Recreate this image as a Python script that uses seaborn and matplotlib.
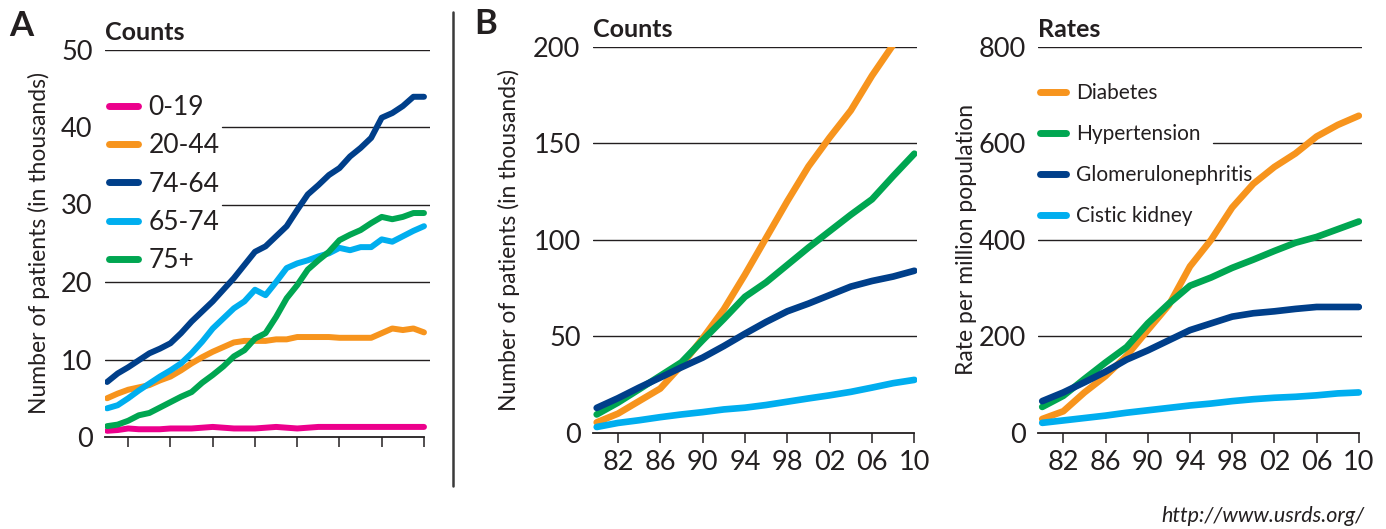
import numpy as np
import pandas as pd
import matplotlib
matplotlib.use("Agg")
import matplotlib.pyplot as plt
from matplotlib.lines import Line2D
import seaborn as sns

# ---------------- data ----------------
years_a = list(range(1980, 2011))
age_groups = ["0-19", "20-44", "74-64", "65-74", "75+"]
age_0_19 = [0.8, 0.9, 1.1, 1.0, 1.0, 1.0, 1.1, 1.1, 1.1, 1.2, 1.3, 1.2, 1.1, 1.1, 1.1, 1.2, 1.3, 1.2, 1.1, 1.2,
            1.3, 1.3, 1.3, 1.3, 1.3, 1.3, 1.3, 1.3, 1.3, 1.3, 1.3]
age_20_44 = [5.0, 5.6, 6.1, 6.4, 6.7, 7.3, 7.8, 8.6, 9.5, 10.3, 11.0, 11.6, 12.2, 12.4, 12.4, 12.4, 12.6, 12.6,
             12.9, 12.9, 12.9, 12.9, 12.8, 12.8, 12.8, 12.8, 13.4, 14.0, 13.8, 14.0, 13.5]
age_45_64 = [7.1, 8.2, 9.0, 9.9, 10.8, 11.4, 12.1, 13.4, 14.9, 16.2, 17.5, 19.0, 20.5, 22.2, 23.9, 24.6, 25.9,
             27.2, 29.3, 31.3, 32.5, 33.8, 34.7, 36.2, 37.3, 38.6, 41.2, 41.8, 42.7, 43.9, 43.9]
age_65_74 = [3.7, 4.1, 5.0, 6.0, 6.9, 7.8, 8.6, 9.5, 10.8, 12.3, 14.0, 15.3, 16.6, 17.5, 19.0, 18.3, 20.0, 21.8,
             22.4, 22.8, 23.3, 23.7, 24.4, 24.1, 24.5, 24.5, 25.5, 25.2, 25.9, 26.6, 27.2]
age_75p = [1.4, 1.6, 2.1, 2.8, 3.1, 3.8, 4.5, 5.2, 5.8, 7.0, 8.0, 9.1, 10.4, 11.2, 12.7, 13.4, 15.5, 17.9, 19.6,
           21.6, 22.8, 23.9, 25.4, 26.1, 26.7, 27.6, 28.4, 28.1, 28.4, 28.9, 28.9]

years_b = [1980, 1982, 1984, 1986, 1988, 1990, 1992, 1994, 1996, 1998, 2000, 2002, 2004, 2006, 2008, 2010]
causes = ["Diabetes", "Hypertension", "Glomerulonephritis", "Cistic kidney"]
# counts (thousands)
cnt_diabetes = [5.5, 10.0, 16.5, 23.0, 35.0, 49.0, 64.0, 82.0, 101.0, 120.0, 138.0, 153.0, 167.0, 185.0, 201.0]
cnt_hypert = [9.6, 15.7, 22.6, 29.6, 36.6, 48.0, 59.0, 70.5, 78.0, 87.0, 96.0, 104.5, 113.0, 121.0, 133.0, 144.6]
cnt_glomer = [13.0, 18.0, 23.5, 28.7, 34.0, 39.0, 45.0, 51.4, 57.5, 63.0, 67.0, 71.4, 75.8, 78.7, 81.0, 84.0]
cnt_cystic = [3.1, 5.2, 6.6, 8.2, 9.6, 10.8, 12.2, 13.1, 14.5, 16.2, 17.9, 19.5, 21.3, 23.5, 25.8, 27.5]
# rates (per million population)
rate_diabetes = [29, 45, 84, 118, 160, 213, 265, 345, 400, 467, 516, 551, 579, 614, 638, 657]
rate_hypert = [54, 77, 112, 146, 178, 227, 268, 305, 322, 342, 359, 377, 394, 406, 422, 438]
rate_glomer = [66, 84, 105, 127, 152, 171, 192, 213, 227, 241, 248, 252, 257, 261, 261, 261]
rate_cystic = [21, 26, 31, 36, 42, 47, 52, 57, 61, 66, 70, 73, 75, 78, 82, 84]

xtick_years = [1982, 1986, 1990, 1994, 1998, 2002, 2006, 2010]
xtick_labels = ["82", "86", "90", "94", "98", "02", "06", "10"]

# ---------------- style ----------------
PINK, ORANGE, NAVY, CYAN, GREEN = "#EC008C", "#F7941D", "#003F8A", "#00AEEF", "#00A651"
INK = "#231F20"

sns.set_theme(style="white")
plt.rcParams["font.family"] = ["Lato", "DejaVu Sans"]
plt.rcParams["text.color"] = INK
plt.rcParams["axes.labelcolor"] = INK
plt.rcParams["xtick.color"] = INK
plt.rcParams["ytick.color"] = INK

fig = plt.figure(figsize=(13.86, 5.29), dpi=100)
W, H = 1386.0, 529.0


def axes_px(left, right, top, bottom):
    return fig.add_axes([left / W, (H - bottom) / H, (right - left) / W, (bottom - top) / H])


axA = axes_px(105, 430, 49.5, 437)
axB = axes_px(593, 917, 46.7, 433)
axC = axes_px(1038, 1362, 46.7, 433)

# ---------------- panel A ----------------
dfA = pd.DataFrame({
    "year": years_a * 5,
    "value": age_0_19 + age_20_44 + age_45_64 + age_65_74 + age_75p,
    "group": sum([[g] * len(years_a) for g in age_groups], []),
})
sns.lineplot(data=dfA, x="year", y="value", hue="group", hue_order=age_groups,
             palette=[PINK, ORANGE, NAVY, CYAN, GREEN], linewidth=4.3, ax=axA, zorder=3)

# ---------------- panel B ----------------
rows = []
for name, vals in zip(causes, [cnt_diabetes, cnt_hypert, cnt_glomer, cnt_cystic]):
    for y, v in zip(years_b, vals):
        rows.append((y, v, name))
dfB = pd.DataFrame(rows, columns=["year", "value", "cause"])
cause_palette = [ORANGE, GREEN, NAVY, CYAN]
sns.lineplot(data=dfB, x="year", y="value", hue="cause", hue_order=causes,
             palette=cause_palette, linewidth=4.8, ax=axB, zorder=3, legend=False)

# ---------------- panel C ----------------
rows = []
for name, vals in zip(causes, [rate_diabetes, rate_hypert, rate_glomer, rate_cystic]):
    for y, v in zip(years_b, vals):
        rows.append((y, v, name))
dfC = pd.DataFrame(rows, columns=["year", "value", "cause"])
sns.lineplot(data=dfC, x="year", y="value", hue="cause", hue_order=causes,
             palette=cause_palette, linewidth=4.8, ax=axC, zorder=3)

# ---------------- common axis styling ----------------
def style_axis(ax, xlim, ylim, yticks, grid_starts, title, ylabel, label_x, show_xlabels):
    ax.set_xlim(*xlim)
    ax.set_ylim(*ylim)
    ax.set_xlabel("")
    ax.set_ylabel(ylabel, fontsize=16.5)
    ax.yaxis.set_label_coords(label_x, 0.5)
    for s in ["top", "right", "left"]:
        ax.spines[s].set_visible(False)
    ax.spines["bottom"].set_color(INK)
    ax.spines["bottom"].set_linewidth(1.3)
    ax.spines["bottom"].set_bounds(xlim[0], 2010)
    ax.set_xticks(xtick_years)
    if show_xlabels:
        ax.set_xticklabels(xtick_labels, fontsize=19.5)
    else:
        ax.set_xticklabels([])
    ax.tick_params(axis="x", direction="out", length=7.5, width=1.1, pad=5, bottom=True)
    ax.set_yticks(yticks)
    ax.set_yticklabels([str(t) for t in yticks], fontsize=19.5)
    ax.tick_params(axis="y", length=0, pad=9)
    for t, st in zip(yticks, grid_starts):
        if t == 0:
            continue
        ax.axhline(t, xmin=st, xmax=1, color=INK, linewidth=1.0, zorder=1)
    ax.text(0, 1.015, title, transform=ax.transAxes, fontsize=18, fontweight="bold",
            ha="left", va="bottom")


style_axis(axA, (1979.8, 2010.57), (0, 50), [0, 10, 20, 30, 40, 50], [0, 0, 0, 0.36, 0.36, 0],
           "Counts", "Number of patients (in thousands)", -0.17, False)
style_axis(axB, (1979.65, 2010.25), (0, 200), [0, 50, 100, 150, 200], [0, 0, 0, 0, 0],
           "Counts", "Number of patients (in thousands)", -0.225, True)
style_axis(axC, (1979.6, 2010.3), (0, 800), [0, 200, 400, 600, 800], [0, 0, 0, 0.54, 0],
           "Rates", "Rate per million population", -0.188, True)

# legends
hA, lA = axA.get_legend_handles_labels()
legA = axA.legend(hA, lA, loc="upper left", bbox_to_anchor=(0.012, 0.882), frameon=False,
                  fontsize=19, handlelength=1.12, handletextpad=0.38, labelspacing=0.5,
                  borderpad=0, borderaxespad=0)
for l in legA.get_lines():
    l.set_linewidth(5)

hC, lC = axC.get_legend_handles_labels()
legC = axC.legend(hC, lC, loc="upper left", bbox_to_anchor=(0.006, 0.905), frameon=False,
                  fontsize=15, handlelength=1.25, handletextpad=0.48, labelspacing=1.0,
                  borderpad=0, borderaxespad=0)
for l in legC.get_lines():
    l.set_linewidth(5)

# panel letters, separator, source
fig.text(9 / W, 1 - 36 / H, "A", fontsize=25, fontweight="bold", ha="left", va="baseline")
fig.text(474 / W, 1 - 34 / H, "B", fontsize=25, fontweight="bold", ha="left", va="baseline")
fig.add_artist(Line2D([453 / W, 453 / W], [1 - 12 / H, 1 - 486 / H], color="#3a3a3a", linewidth=1.8))
fig.text(1364 / W, 1 - 522 / H, "http://www.usrds.org/", fontsize=15.5, fontstyle="italic",
         ha="right", va="baseline")

fig.savefig("out.png", dpi=100)
